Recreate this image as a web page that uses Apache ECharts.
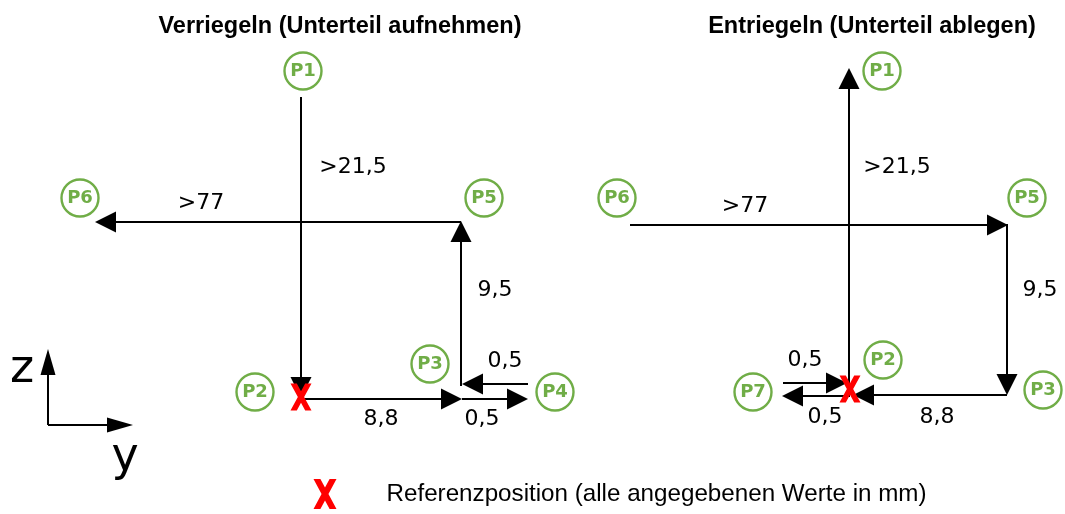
<!DOCTYPE html>
<html><head><meta charset="utf-8">
<script src="https://cdn.jsdelivr.net/npm/echarts@6/dist/echarts.min.js"></script>
<style>html,body{margin:0;padding:0;background:#fff}#c{width:1065px;height:514px}</style>
</head><body><div id="c"></div>
<script>
// ---- diagram data (diagram units = pixel-like scale of the drawing) ----
const titles = ['Verriegeln (Unterteil aufnehmen)', 'Entriegeln (Unterteil ablegen)'];
const titleX = [335, 867];

const nodeNames = ['P1','P6','P5','P3','P4','P2', 'P1','P6','P5','P3','P2','P7'];
const nodeX = [303, 80, 484, 430, 555, 255, 882, 617, 1027, 1043, 883, 753];
const nodeY = [71, 198, 198, 364, 392, 392, 71, 198, 198, 390, 360, 392];

const dimTexts = ['>21,5','>77','9,5','0,5','8,8','0,5', '>21,5','>77','9,5','0,5','0,5','8,8'];
const dimX = [353, 201, 495, 505, 381, 482, 897, 745, 1040, 805, 825, 937];
const dimY = [167, 203, 290, 361, 419, 419, 167, 206, 290, 360, 417, 417];

// movement arrows: start point -> arrow tip
const arrowStartX = [301, 461, 461, 301, 462, 528, 849, 630, 1007, 1007, 783, 850];
const arrowStartY = [97, 222, 386, 399, 399, 384, 396, 225, 224, 395, 383, 396];
const arrowTipX   = [301, 95, 461, 462, 528, 462, 849, 1008, 1007, 853, 847, 782];
const arrowTipY   = [398, 222, 221, 399, 399, 384, 68, 225, 395, 395, 383, 396];

// coordinate indicator (z up, y right)
const axisStartX = [48, 48];
const axisStartY = [425, 425];
const axisTipX = [48, 133];
const axisTipY = [349, 425];
const axisLetters = ['z', 'y'];
const axisLetterX = [22, 125];
const axisLetterY = [370, 458];

// reference-position markers
const refX = [301, 850, 325];
const refY = [397, 389, 494];
const legendText = ['Referenzposition (alle angegebenen Werte in mm)'];
const legendX = [386];
const legendY = [494];

// ---- build ----
function segs(sx, sy, tx, ty, head) {
  return sx.map((x, i) => {
    const dx = tx[i] - x, dy = ty[i] - sy[i];
    const L = Math.sqrt(dx*dx + dy*dy) || 1;
    const ex = tx[i] - dx / L * head / 2, ey = ty[i] - dy / L * head / 2;
    return { coords: [[x, sy[i]], [ex, ey]] };
  });
}
const HEAD = 21, AHEAD = 26;
const crossPath = 'path://M0,0 L3,0 L5,3.7 L7,0 L10,0 L6.5,6.5 L10,13 L7,13 L5,9.3 L3,13 L0,13 L3.5,6.5 Z';

const chart = echarts.init(document.getElementById('c'), null, {renderer: 'canvas'});
chart.setOption({
  animation: false,
  backgroundColor: '#ffffff',
  title: titles.map((t, i) => ({
    text: t, left: titleX[i], top: 10, textAlign: 'center',
    textStyle: {fontFamily: 'Liberation Sans', fontWeight: 'bold', fontSize: 23.5, color: '#000'}
  })),
  grid: {left: 0, right: 0, top: 0, bottom: 0},
  xAxis: {type: 'value', min: 0, max: 1065, show: false},
  yAxis: {type: 'value', min: 0, max: 514, inverse: true, show: false},
  series: [
    {
      type: 'lines', coordinateSystem: 'cartesian2d', z: 2,
      symbol: ['none', 'triangle'], symbolSize: [HEAD, HEAD],
      lineStyle: {color: '#000', width: 2, opacity: 1, curveness: 0},
      itemStyle: {color: '#000'},
      data: segs(arrowStartX, arrowStartY, arrowTipX, arrowTipY, HEAD)
    },
    {
      type: 'lines', coordinateSystem: 'cartesian2d', z: 2,
      symbol: ['none', 'triangle'], symbolSize: [[15, AHEAD], [15, AHEAD]],
      lineStyle: {color: '#000', width: 2, opacity: 1},
      data: segs(axisStartX, axisStartY, axisTipX, axisTipY, AHEAD)
    },
    {
      type: 'scatter', z: 3, symbol: 'circle', symbolSize: 37,
      itemStyle: {color: '#fff', borderColor: '#70ad47', borderWidth: 2.4, opacity: 1},
      label: {show: true, position: 'inside', formatter: '{b}', color: '#70ad47',
        fontFamily: 'DejaVu Sans', fontWeight: 'bold', fontSize: 18},
      data: nodeNames.map((n, i) => ({name: n, value: [nodeX[i], nodeY[i]]}))
    },
    {
      type: 'scatter', z: 4, symbolSize: 1, itemStyle: {color: 'rgba(0,0,0,0)', opacity: 1},
      label: {show: true, position: 'inside', formatter: '{b}', color: '#000',
        fontFamily: 'DejaVu Sans', fontSize: 22},
      data: dimTexts.map((n, i) => ({name: n, value: [dimX[i], dimY[i]]}))
    },
    {
      type: 'scatter', z: 4, symbolSize: 1, itemStyle: {color: 'rgba(0,0,0,0)', opacity: 1},
      label: {show: true, position: 'inside', formatter: '{b}', color: '#000',
        fontFamily: 'DejaVu Sans', fontSize: 46},
      data: axisLetters.map((n, i) => ({name: n, value: [axisLetterX[i], axisLetterY[i]]}))
    },
    {
      type: 'scatter', z: 4, symbolSize: 1, itemStyle: {color: 'rgba(0,0,0,0)', opacity: 1},
      label: {show: true, position: 'right', distance: 0, formatter: '{b}', color: '#000',
        fontFamily: 'Liberation Sans', fontSize: 24.2},
      data: legendText.map((n, i) => ({name: n, value: [legendX[i], legendY[i]]}))
    },
    {
      type: 'scatter', z: 5, symbol: crossPath, symbolSize: [20, 27],
      itemStyle: {color: '#ff0000', opacity: 1},
      data: refX.map((x, i) => ({value: [x, refY[i]], symbolSize: i === 2 ? [23, 30] : [21, 27]}))
    }
  ]
});
</script></body></html>
